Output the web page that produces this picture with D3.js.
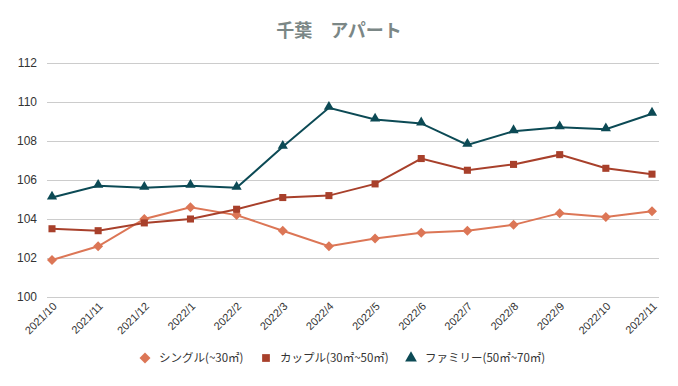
<!DOCTYPE html>
<html><head><meta charset="utf-8">
<script src="https://cdn.jsdelivr.net/npm/d3@7"></script>
<style>body{margin:0;background:#fff;}svg{display:block;font-family:"Noto Sans CJK JP","Noto Sans",sans-serif;}</style>
</head><body><svg id="c" width="678" height="386"></svg>
<script>
const categories = ["2021/10","2021/11","2021/12","2022/1","2022/2","2022/3","2022/4","2022/5","2022/6","2022/7","2022/8","2022/9","2022/10","2022/11"];
const single = [101.9,102.6,104.0,104.6,104.2,103.4,102.6,103.0,103.3,103.4,103.7,104.3,104.1,104.4];
const couple = [103.5,103.4,103.8,104.0,104.5,105.1,105.2,105.8,107.1,106.5,106.8,107.3,106.6,106.3];
const family = [105.1,105.7,105.6,105.7,105.6,107.7,109.7,109.1,108.9,107.8,108.5,108.7,108.6,109.4];
const seriesNames = ["シングル(~30㎡)","カップル(30㎡~50㎡)","ファミリー(50㎡~70㎡)"];
const yTicks = [100,102,104,106,108,110,112];
const title = "千葉　アパート";

const colors = ["#dc7656","#a8402b","#0c4a55"];
const series = [single, couple, family];

function marker(k, sz) {
  if (k === 0) return { d: d3.symbol().type(d3.symbolSquare).size(sz)(), rot: 45 };
  if (k === 1) return { d: d3.symbol().type(d3.symbolSquare).size(sz)(), rot: 0 };
  return { d: d3.symbol().type(d3.symbolTriangle).size(sz)(), rot: 0 };
}

const svg = d3.select("#c");
const x = d3.scalePoint().domain(categories).range([52, 652]);
const y = d3.scaleLinear().domain([100,112]).range([297, 63]);

svg.append("text").attr("x", 339).attr("y", 37).attr("text-anchor","middle")
  .attr("font-size",18).attr("font-weight","bold").attr("fill","#7b8786").text(title);

const yAxis = d3.axisLeft(y).tickValues(yTicks).tickSize(-(659-47)).tickPadding(8).tickFormat(d3.format("d"));
const gy = svg.append("g").attr("transform","translate(47,0)").call(yAxis);
gy.select(".domain").remove();
gy.selectAll(".tick line").attr("stroke","#cccccc").attr("stroke-width",1);
gy.selectAll(".tick text").attr("fill","#333").attr("font-size",12).style("font-family","'Liberation Sans', Arial, sans-serif").attr("dx",-2);

const xAxis = d3.axisBottom(x).tickSize(0).tickPadding(0);
const gx = svg.append("g").attr("transform","translate(0,297)").call(xAxis);
gx.select(".domain").remove();
gx.selectAll(".tick text").attr("fill","#333").attr("font-size",11)
  .style("font-family","'Liberation Sans', Arial, sans-serif")
  .attr("text-anchor","end").attr("dy",0)
  .attr("transform","translate(5,10) rotate(-45)");

const line = d3.line().x((d,i)=>x(categories[i])).y(d=>y(d));
series.forEach((s, k) => {
  const g = svg.append("g");
  g.append("path").datum(s).attr("d", line).attr("fill","none").attr("stroke",colors[k]).attr("stroke-width",2);
  const m = marker(k, k===0?50:k===1?50:45);
  g.selectAll("path.m").data(s).enter().append("path").attr("class","m")
    .attr("d", m.d)
    .attr("transform",(d,i)=>`translate(${x(categories[i])},${y(d)+(k===2?-1:0)}) rotate(${m.rot})`)
    .attr("fill",colors[k]);
});

const legX = [145, 266, 411];
const lg = svg.append("g");
seriesNames.forEach((n,k)=>{
  const m = marker(k, 60);
  lg.append("path").attr("d", m.d)
    .attr("transform",`translate(${legX[k]},${358}) rotate(${m.rot})`).attr("fill",colors[k]);
  lg.append("text").attr("x",legX[k]+14).attr("y",362).attr("font-size",11.5).attr("fill","#333").text(n);
});
</script></body></html>
